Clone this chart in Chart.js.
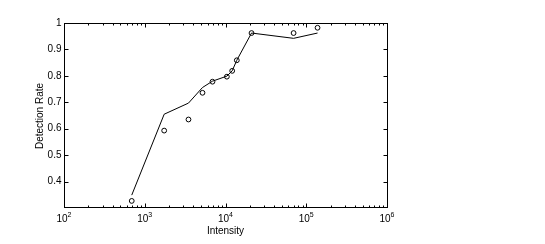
<!DOCTYPE html>
<html>
<head>
<meta charset="utf-8">
<script src="https://cdn.jsdelivr.net/npm/chart.js@4/dist/chart.umd.min.js"></script>
<style>
  html, body { margin: 0; padding: 0; background: #fff; }
  #wrap { width: 545px; height: 244px; }
</style>
</head>
<body>
<div id="wrap"><canvas id="chart" width="545" height="244"></canvas></div>
<script>
// Data
const intensity = [690, 1740, 3480, 5190, 6900, 10400, 12100, 13800, 21000, 69700, 138000];
const observedRate = [0.327, 0.593, 0.635, 0.736, 0.778, 0.797, 0.819, 0.859, 0.962, 0.962, 0.982];
const fittedRate = [0.349, 0.655, 0.697, 0.756, 0.780, 0.799, 0.819, 0.859, 0.962, 0.942, 0.962];

const xTickExponents = [2, 3, 4, 5, 6];
const yTicks = [0.4, 0.5, 0.6, 0.7, 0.8, 0.9, 1];
const yTickLabels = ['0.4', '0.5', '0.6', '0.7', '0.8', '0.9', '1'];
const xTitle = 'Intensity';
const yTitle = 'Detection Rate';

const FONT = '"Liberation Sans", Arial, Helvetica, sans-serif';

// Matlab-style frame, inward ticks and labels
const axesFrame = {
    id: 'axesFrame',
    afterDraw: function(chart) {
        const ctx = chart.ctx;
        const a = chart.chartArea;
        const xs = chart.scales.x;
        const ys = chart.scales.y;
        const L = Math.round(a.left) + 0.5, R = Math.round(a.right) + 0.5;
        const T = Math.round(a.top) + 0.5, B = Math.round(a.bottom) + 0.5;

        ctx.save();
        ctx.strokeStyle = '#000';
        ctx.lineWidth = 1;
        ctx.strokeRect(L, T, R - L, B - T);

        ctx.beginPath();
        // x ticks, major and log minor, top and bottom
        xTickExponents.forEach(function(e, i) {
            const px = Math.round(xs.getPixelForValue(Math.pow(10, e))) + 0.5;
            ctx.moveTo(px, B); ctx.lineTo(px, B - 4);
            ctx.moveTo(px, T); ctx.lineTo(px, T + 4);
            if (i < xTickExponents.length - 1) {
                for (let m = 2; m <= 9; m++) {
                    const mx = Math.round(xs.getPixelForValue(m * Math.pow(10, e))) + 0.5;
                    ctx.moveTo(mx, B); ctx.lineTo(mx, B - 2);
                    ctx.moveTo(mx, T); ctx.lineTo(mx, T + 2);
                }
            }
        });
        // y ticks, left and right
        yTicks.forEach(function(v) {
            const py = Math.round(ys.getPixelForValue(v)) + 0.5;
            ctx.moveTo(L, py); ctx.lineTo(L + 4, py);
            ctx.moveTo(R, py); ctx.lineTo(R - 4, py);
        });
        ctx.stroke();

        ctx.fillStyle = '#000';
        // y tick labels
        ctx.font = '10px ' + FONT;
        ctx.textAlign = 'right';
        ctx.textBaseline = 'middle';
        yTicks.forEach(function(v, i) {
            ctx.fillText(yTickLabels[i], L - 3, ys.getPixelForValue(v));
        });

        // x tick labels as 10 with superscript exponent
        xTickExponents.forEach(function(e) {
            const px = xs.getPixelForValue(Math.pow(10, e));
            ctx.font = '10px ' + FONT;
            const baseW = ctx.measureText('10').width;
            ctx.font = '7px ' + FONT;
            const expW = ctx.measureText(String(e)).width;
            const start = px - (baseW + expW) / 2;
            ctx.textAlign = 'left';
            ctx.textBaseline = 'alphabetic';
            ctx.font = '10px ' + FONT;
            ctx.fillText('10', start, B + 14);
            ctx.font = '7px ' + FONT;
            ctx.fillText(String(e), start + baseW, B + 9);
        });

        // axis titles
        ctx.font = '10px ' + FONT;
        ctx.textAlign = 'center';
        ctx.textBaseline = 'middle';
        ctx.fillText(xTitle, (a.left + a.right) / 2, B + 24);
        ctx.translate(40, (a.top + a.bottom) / 2 + 1);
        ctx.rotate(-Math.PI / 2);
        ctx.fillText(yTitle, 0, 0);
        ctx.restore();
    }
};

const ctx = document.getElementById('chart').getContext('2d');
new Chart(ctx, {
    type: 'scatter',
    data: {
        datasets: [
            {
                label: 'fit',
                data: intensity.map(function(x, i) { return { x: x, y: fittedRate[i] }; }),
                showLine: true,
                borderColor: '#000',
                borderWidth: 1,
                pointRadius: 0,
                fill: false
            },
            {
                label: 'observed',
                data: intensity.map(function(x, i) { return { x: x, y: observedRate[i] }; }),
                showLine: false,
                pointStyle: 'circle',
                pointRadius: 2.4,
                borderColor: '#000',
                borderWidth: 1,
                backgroundColor: 'rgba(0,0,0,0)'
            }
        ]
    },
    options: {
        responsive: false,
        animation: false,
        events: [],
        layout: { padding: { left: 64, top: 23, right: 158, bottom: 37 } },
        plugins: { legend: { display: false }, tooltip: { enabled: false } },
        scales: {
            x: { type: 'logarithmic', min: 100, max: 1000000, display: false },
            y: { type: 'linear', min: 0.304, max: 1, display: false }
        }
    },
    plugins: [axesFrame]
});
</script>
</body>
</html>
